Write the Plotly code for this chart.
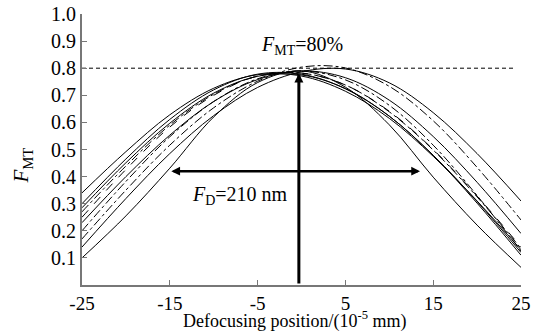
import plotly.graph_objects as go

x_pos = [-25, -20, -15, -10, -5, 0, 5, 10, 15, 20, 25]

c1 = [0.34, 0.492, 0.628, 0.726, 0.776, 0.771, 0.715, 0.615, 0.475, 0.310, 0.13]
c2 = [0.30, 0.465, 0.611, 0.720, 0.778, 0.778, 0.724, 0.623, 0.479, 0.308, 0.12]
c3 = [0.285, 0.451, 0.597, 0.708, 0.770, 0.775, 0.725, 0.623, 0.478, 0.302, 0.11]
c4 = [0.27, 0.439, 0.590, 0.704, 0.771, 0.782, 0.738, 0.639, 0.498, 0.325, 0.135]
c5 = [0.25, 0.426, 0.583, 0.700, 0.771, 0.782, 0.738, 0.641, 0.500, 0.328, 0.14]
c6 = [0.23, 0.400, 0.553, 0.677, 0.758, 0.790, 0.765, 0.682, 0.548, 0.379, 0.19]
c7 = [0.20, 0.382, 0.547, 0.677, 0.761, 0.790, 0.757, 0.663, 0.516, 0.330, 0.125]
c8 = [0.17, 0.350, 0.516, 0.654, 0.752, 0.804, 0.801, 0.733, 0.606, 0.434, 0.24]
c9 = [0.14, 0.319, 0.485, 0.625, 0.729, 0.787, 0.797, 0.746, 0.636, 0.485, 0.31]
c10 = [0.10, 0.255, 0.431, 0.620, 0.747, 0.790, 0.730, 0.591, 0.398, 0.221, 0.065]

series = [c1, c2, c3, c4, c5, c6, c7, c8, c9, c10]
styles = ["solid", "solid", "solid", "dashdot", "dash", "solid", "dashdot", "dashdot", "solid", "solid"]

x_ticks = [-25, -15, -5, 5, 15, 25]
y_ticks = [0.1, 0.2, 0.3, 0.4, 0.5, 0.6, 0.7, 0.8, 0.9, 1.0]
y_tick_text = ["0.1", "0.2", "0.3", "0.4", "0.5", "0.6", "0.7", "0.8", "0.9", "1.0"]

threshold = 0.8
threshold_x = [-25, 24.3]
fd_left, fd_right, fd_level = -15, 13.5, 0.42
focus_x, focus_top = -0.3, 0.78

FONT = "Liberation Serif"

fig = go.Figure()
for vals, st in zip(series, styles):
    fig.add_trace(go.Scatter(x=x_pos, y=vals, mode="lines",
                             line=dict(color="black", width=1, dash=st, shape="spline", smoothing=1.0),
                             showlegend=False, hoverinfo="skip"))

fig.add_trace(go.Scatter(x=threshold_x, y=[threshold, threshold], mode="lines",
                         line=dict(color="black", width=1, dash="4px,3px"),
                         showlegend=False, hoverinfo="skip"))

# vertical arrow
fig.add_annotation(x=focus_x, y=focus_top, ax=focus_x, ay=0, xref="x", yref="y",
                   axref="x", ayref="y", showarrow=True, arrowhead=2, arrowsize=0.6,
                   arrowwidth=3, arrowcolor="black", text="")
# horizontal double arrow
fig.add_annotation(x=fd_right, y=fd_level, ax=fd_left, ay=fd_level, xref="x", yref="y",
                   axref="x", ayref="y", showarrow=True, arrowhead=2, startarrowhead=2,
                   arrowside="end+start", arrowsize=0.7, startarrowsize=0.7,
                   arrowwidth=2.5, arrowcolor="black", text="")

fig.add_annotation(x=0, y=0.885, xref="x", yref="y", showarrow=False,
                   text="<i>F</i><sub>MT</sub>=80%", font=dict(family=FONT, size=20, color="black"))
fig.add_annotation(x=-7.0, y=0.33, xref="x", yref="y", showarrow=False,
                   text="<i>F</i><sub>D</sub>=210 nm", font=dict(family=FONT, size=20, color="black"))

# axis titles
fig.add_annotation(x=0.483, y=-0.178, xref="paper", yref="paper", showarrow=False,
                   xanchor="center", yanchor="bottom", borderpad=0,
                   text="Defocusing position/(10<sup>-5</sup> mm)",
                   font=dict(family=FONT, size=18, color="black"))
fig.add_annotation(x=-0.137, y=0.44, xref="paper", yref="paper", showarrow=False,
                   xanchor="center", yanchor="middle", textangle=-90,
                   text="<i>F</i><sub>MT</sub>",
                   font=dict(family=FONT, size=21, color="black"))

fig.update_xaxes(range=[-25, 25], tickvals=x_ticks, ticktext=[str(v) for v in x_ticks],
                 ticks="inside", ticklen=5, tickcolor="#777", tickwidth=1,
                 showline=True, linecolor="#777", linewidth=2, showgrid=False, zeroline=False,
                 automargin=False,
                 tickfont=dict(family=FONT, size=19, color="black"))
fig.update_yaxes(range=[0, 1.0], tickvals=y_ticks, ticktext=y_tick_text,
                 ticks="inside", ticklen=5, tickcolor="#777", tickwidth=1,
                 showline=True, linecolor="#777", linewidth=2, showgrid=False, zeroline=False,
                 automargin=False,
                 tickfont=dict(family=FONT, size=20, color="black"))

fig.update_layout(width=539, height=335, margin=dict(l=82, r=18, t=14, b=50),
                  plot_bgcolor="white", paper_bgcolor="white")

fig.write_html("out.html", config={"displayModeBar": False},
               post_script="document.body.style.margin='0px';document.body.style.overflow='hidden';")
